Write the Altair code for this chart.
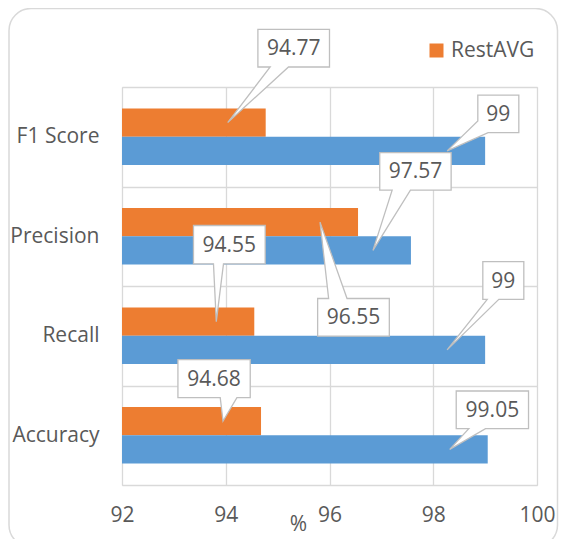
import altair as alt
import pandas as pd

# ---- data ----
categories = ["F1 Score", "Precision", "Recall", "Accuracy"]
series = ["RestAVG", "Proposed"]
restavg = [94.77, 96.55, 94.55, 94.68]
proposed = [99, 97.57, 99, 99.05]
x_ticks = [92, 94, 96, 98, 100]

ORANGE = "#ED7D31"
BLUE = "#5B9BD5"
TXT = "#595959"
GRID = "#d9d9d9"
FONT = "Open Sans"
FS = 21

# callout styling (pixel offsets relative to bar end / bar centre)
TIP = (-38, 0)
callout_style = {
    ("F1 Score", "RestAVG"): ((-7.8, 63.8, -93.3, -55.6), "bottom", (4.5, 22.8)),
    ("F1 Score", "Proposed"): ((-7.3, 33.7, -55.8, -18.2), "corner", (-30, 3)),
    ("Precision", "Proposed"): ((-31.2, 40.2, -97.7, -60.3), "bottom", (-18.8, -0.5)),
    ("Precision", "RestAVG"): ((-40.4, 31.3, 76.4, 114.1), "top", (-29.4, -11)),
    ("Recall", "RestAVG"): ((-60.8, 10.9, -96.1, -57.8), "bottom", (-40.8, -30.8)),
    ("Recall", "Proposed"): ((-2.3, 38.7, -88.2, -50.5), "bottom", (2.1, 13.7)),
    ("Accuracy", "RestAVG"): ((-83.1, -10.8, -61.4, -23.4), "bottom", (-40.8, -24.1)),
    ("Accuracy", "Proposed"): ((-31.5, 40.8, -58.4, -20.8), "bottom", (-18.9, -2.2)),
}


def callout_path(box, side, base):
    x0, x1, y0, y1 = box
    tx, ty = TIP
    if side == "bottom":
        pts = [(x0, y0), (x1, y0), (x1, y1), (base[1], y1), (tx, ty), (base[0], y1), (x0, y1)]
    elif side == "top":
        pts = [(x0, y0), (base[0], y0), (tx, ty), (base[1], y0), (x1, y0), (x1, y1), (x0, y1)]
    else:  # corner: left edge point -> tip -> bottom edge point
        pts = [(x0, y0), (x1, y0), (x1, y1), (base[1], y1), (tx, ty), (x0, base[0])]
    return "M" + "L".join(f"{x:.1f},{y:.1f}" for x, y in pts) + "Z"


rows = []
for i, c in enumerate(categories):
    for s, vals in (("RestAVG", restavg), ("Proposed", proposed)):
        box, side, base = callout_style[(c, s)]
        rows.append(dict(category=c, series=s, value=vals[i], label=f"{vals[i]:g}",
                         shape=callout_path(box, side, base), key=f"{c}|{s}"))
df = pd.DataFrame(rows)

x_enc = alt.X("value:Q",
              scale=alt.Scale(domain=[x_ticks[0], x_ticks[-1]], nice=False, zero=False),
              axis=alt.Axis(values=x_ticks, title="%", grid=True, gridColor=GRID, gridWidth=1.3,
                            domain=False, ticks=False, tickSize=0, labelPadding=30,
                            labelFlush=False, labelOverlap=False,
                            labelBaseline="middle", labelFontSize=FS, labelColor=TXT, labelFont=FONT,
                            titleFontSize=FS, titleFontWeight="normal", titleColor=TXT, titleFont=FONT,
                            titleX=176, titleY=39, titleBaseline="middle", titleAlign="center"))
y_enc = alt.Y("category:N", sort=categories,
              scale=alt.Scale(paddingInner=0, paddingOuter=0),
              axis=alt.Axis(title=None, grid=True, tickBand="extent", gridColor=GRID, gridWidth=1.3,
                            domain=False, ticks=False, tickSize=0, labelPadding=23,
                            labelFontSize=FS, labelColor=TXT, labelFont=FONT))
yoff_enc = alt.YOffset("series:N", sort=series,
                       scale=alt.Scale(paddingInner=0, paddingOuter=0.758))

base = alt.Chart(df)

bars = base.mark_bar().encode(
    x=x_enc,
    x2=alt.datum(x_ticks[0]),
    y=y_enc,
    yOffset=yoff_enc,
    color=alt.Color("series:N",
                    scale=alt.Scale(domain=series, range=[ORANGE, BLUE]),
                    legend=alt.Legend(values=["RestAVG"], title=None, orient="none",
                                      legendX=304, legendY=-47, symbolType="square",
                                      symbolSize=196, symbolStrokeWidth=0, labelOffset=4,
                                      labelFontSize=FS, labelColor=TXT, labelFont=FONT,
                                      padding=0)),
)

callouts = base.mark_point(filled=True, fill="white", stroke="#bfbfbf", strokeWidth=1.3,
                           opacity=1, size=4).encode(
    x=x_enc, y=y_enc, yOffset=yoff_enc,
    shape=alt.Shape("shape:N", scale=None, legend=None),
)

texts = []
for (c, s), (box, side, b) in callout_style.items():
    x0, x1, y0, y1 = box
    texts.append(
        base.transform_filter(alt.datum.key == f"{c}|{s}")
        .mark_text(align="center", baseline="middle", dx=(x0 + x1) / 2, dy=(y0 + y1) / 2 + 1,
                   fontSize=FS, color=TXT, font=FONT)
        .encode(x=x_enc, y=y_enc, yOffset=yoff_enc, text="label:N")
    )

frame = alt.Chart(pd.DataFrame({"f": [0]})).mark_rect(
    fillOpacity=0, stroke=GRID, strokeWidth=1.5, cornerRadius=22
).encode(x=alt.value(-113), x2=alt.value(435.5), y=alt.value(-78.5), y2=alt.value(460))

chart = alt.layer(frame, bars, callouts, *texts).properties(
    width=415, height=398,
    autosize=alt.AutoSizeParams(type="none"),
    padding={"left": 114, "top": 79, "right": 22, "bottom": 54},
).configure_view(stroke=GRID, strokeWidth=1.3).configure(font=FONT)

chart.save("out.html", embed_options={"renderer": "svg", "actions": False})
